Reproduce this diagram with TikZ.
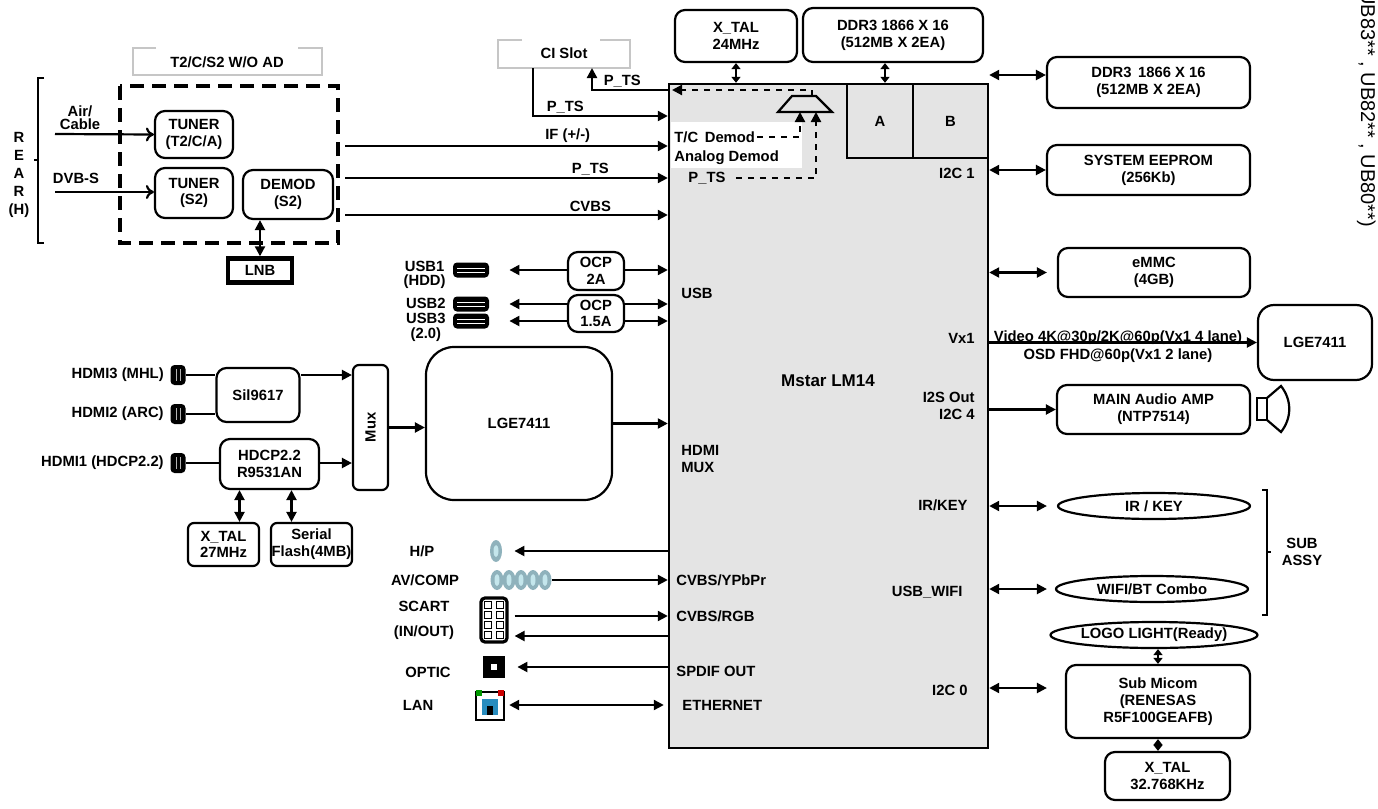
\documentclass[tikz,border=0pt]{standalone}
\usepackage{fontspec}
\setmainfont{Liberation Sans}
\usetikzlibrary{positioning,shapes.geometric,arrows.meta}

\definecolor{chipgray}{RGB}{228,228,228}
\definecolor{jackout}{RGB}{143,178,188}
\definecolor{jackin}{RGB}{196,230,236}
\definecolor{lanblue}{RGB}{40,140,190}

\tikzset{
	blk/.style={draw,rounded corners=5pt,line width=1.1pt,align=center,inner sep=0pt,font=\bfseries\fontsize{7.4}{8.4}\selectfont},
	sz/.style 2 args={minimum width=#1*0.5pt,minimum height=#2*0.5pt},
	lbl/.style={font=\bfseries\fontsize{7.4}{8.4}\selectfont,inner sep=1pt,align=center},
	tip/.tip={Triangle[length=5pt,width=5pt]},
	stip/.tip={Triangle[length=3pt,width=4.5pt]},
	sig/.style={line width=1.1pt,-tip},
	bus/.style={line width=1.1pt,tip-tip},
	sbus/.style={line width=1.1pt,stip-stip},
	oval/.style={draw,ellipse,line width=1.1pt,inner sep=0pt,font=\bfseries\fontsize{7.4}{8.4}\selectfont},
}

\begin{document}
\begin{tikzpicture}[x=0.5pt,y=-0.5pt]
	\useasboundingbox (0,0) rectangle (1378,809);

	% main chip
	\node[draw,line width=1.2pt,fill=chipgray,sz={319}{664}] (chip) at (828.5,416) {};
	\fill[white] (671,122) rectangle (802,168);
	\node[draw,line width=1.2pt,fill=chipgray,sz={66}{74},lbl] (memA) at (880,121) {A};
	\node[draw,line width=1.2pt,fill=chipgray,sz={75}{74},lbl] (memB) at (950.5,121) {B};
	\node[lbl,font=\bfseries\fontsize{8.5}{10}\selectfont] (chipname) at (828,381) {Mstar LM14};

	\node[lbl,anchor=west] (tcdem) at (672,137) {T/C\, Demod};
	\node[lbl,anchor=west] (andem) at (672,158) {Analog Demod};
	\node[lbl,anchor=west] (pts) at (686,178) {P\_TS};
	\node[lbl,anchor=west] (usbin) at (679,293) {USB};
	\node[lbl,anchor=west,align=left] (hdmimux) at (679,459) {HDMI\\MUX};
	\node[lbl,anchor=west] (cvbsy) at (674,580) {CVBS/YPbPr};
	\node[lbl,anchor=west] (cvbsrgb) at (674,616) {CVBS/RGB};
	\node[lbl,anchor=west] (spdif) at (674,671) {SPDIF OUT};
	\node[lbl,anchor=west] (eth) at (680,705) {ETHERNET};
	\node[lbl,anchor=east] (i2cA) at (977,173) {I2C 1};
	\node[lbl,anchor=east] (vxA) at (977,338) {Vx1};
	\node[lbl,anchor=east,align=right] (i2s) at (977,406) {I2S Out\\I2C 4};
	\node[lbl,anchor=east] (irin) at (970,505) {IR/KEY};
	\node[lbl,anchor=east] (wifiin) at (965,592) {USB\_WIFI};
	\node[lbl,anchor=east] (i2cB) at (970,690) {I2C 0};

	% demod selector
	\draw[line width=1.1pt] (792,96) -- (816,96) -- (832,112) -- (778,112) -- cycle;
	\draw[line width=1.1pt,dashed,-tip] (812,96) |- (672,90);
	\draw[line width=1.1pt,dashed,-tip] (tcdem.east) -| (800,112);
	\draw[line width=1.1pt,dashed,-tip] (pts.east) ++(8,0) -| (816,112);

	% top and right parts
	\node[blk,sz={122}{52}] (xtalA) at (736,36) {X\_TAL\\24MHz};
	\node[blk,sz={180}{54}] (ddrA) at (893,35) {DDR3 1866 X 16\\(512MB X 2EA)};
	\draw[sbus] (xtalA.south) -- (xtalA.south |- chip.north);
	\draw[sbus] ([xshift=-4pt]ddrA.south) -- ([xshift=-4pt]ddrA.south |- memA.north);

	\node[blk,sz={203}{51}] (ddrB) at (1148.5,82.5) {DDR3\, 1866 X 16\\(512MB X 2EA)};
	\node[blk,sz={203}{50}] (eeprom) at (1148.5,170) {SYSTEM EEPROM\\(256Kb)};
	\node[blk,sz={192}{49}] (emmc) at (1154,272.5) {eMMC\\(4GB)};
	\node[blk,sz={114}{75},rounded corners=8pt] (lgeB) at (1315,342.5) {LGE7411};
	\node[blk,sz={193}{49}] (amp) at (1153.5,409.5) {MAIN Audio AMP\\(NTP7514)};
	\node[oval,sz={192}{26}] (irkey) at (1154,506) {IR / KEY};
	\node[oval,sz={192}{26}] (wifi) at (1152,589) {WIFI/BT Combo};
	\node[oval,sz={192}{26}] (logo) at (1154,635) {LOGO LIGHT(Ready)};
	\node[blk,sz={184}{73}] (micom) at (1158,701.5) {Sub Micom\\(RENESAS\\R5F100GEAFB)};
	\node[blk,sz={125}{48}] (xtalC) at (1167.5,776) {X\_TAL\\32.768KHz};

	\draw[bus] (chip.east |- 0,75) -- (ddrB.west |- 0,75);
	\draw[bus] (chip.east |- eeprom) -- (eeprom.west);
	\draw[bus] (chip.east |- emmc) -- ([xshift=-5pt]emmc.west);
	\draw[sig] (chip.east |- lgeB) -- (lgeB.west);
	\node[lbl] (vxtxt) at (1118,338) {Video 4K@30p/2K@60p(Vx1 4 lane)};
	\node[lbl] (osdtxt) at (1118,356) {OSD FHD@60p(Vx1 2 lane)};
	\draw[sig] (chip.east |- amp) -- (amp.west);
	\draw[line width=1.1pt] (1257,398) rectangle (1267,420);
	\draw[line width=1.1pt] (1267,398) -- (1281,386) .. controls (1292,400) and (1292,418) .. (1281,432) -- (1267,420);
	\draw[bus,shorten >=5pt] (chip.east |- irkey) -- (irkey.west);
	\draw[bus,shorten >=4pt] (chip.east |- wifi) -- (wifi.west);
	\draw[bus,shorten >=9pt] (chip.east |- 0,688) -- (micom.west |- 0,688);
	\draw[sbus] (logo.south -| micom) -- (micom.north);
	\draw[sbus] (micom.south) -- (micom.south |- xtalC.north);

	\draw[line width=0.9pt] (1262,490) -- (1267,490) -- (1267,615) -- (1262,615);
	\draw[line width=0.9pt] (1267,552) -- (1271,552);
	\node[lbl] (subassy) at (1302,552) {SUB\\ASSY};

	\node[rotate=-90,anchor=north west,inner sep=0pt,font=\fontsize{10}{12}\selectfont] (model) at (1376,-10) {UB83** , UB82** , UB80**)};

	% tuner / demod part
	\draw[gray!45,line width=1.2pt] (156,48) -- (133,48) -- (133,75) -- (322,75) -- (322,48) -- (298,48);
	\node[lbl] (tuntitle) at (227,62) {T2/C/S2 W/O AD};
	\draw[gray!45,line width=1.2pt] (522,40) -- (498,40) -- (498,68) -- (630,68) -- (630,40) -- (600,40);
	\node[lbl] (cislot) at (564,53) {CI Slot};
	\draw[line width=2.2pt,dash pattern=on 7pt off 4pt] (120,86) rectangle (338,243);

	\draw[line width=0.9pt] (44,78) -- (38,78) -- (38,243) -- (44,243);
	\draw[line width=0.9pt] (38,160) -- (34,160);
	\node[lbl,font=\bfseries\fontsize{7.4}{9}\selectfont] (rear) at (19,175) {R\\E\\A\\R\\(H)};

	\node[blk,sz={78}{47}] (tunA) at (194,134.5) {TUNER\\(T2/C/A)};
	\node[blk,sz={78}{50}] (tunS) at (194,193) {TUNER\\(S2)};
	\node[blk,sz={90}{49}] (demod) at (288,194.5) {DEMOD\\(S2)};
	\node[draw,line width=2.2pt,sz={64}{24},lbl] (lnb) at (260,270.5) {LNB};

	\coordinate (airin) at (55,134);
	\coordinate (dvbin) at (55,192);
	\draw[line width=1.1pt,-{To[length=4pt,width=7pt]}] (airin) -- (tunA.west);
	\draw[line width=1.1pt,-{To[length=4pt,width=7pt]}] (dvbin) -- (dvbin -| tunS.west);
	\node[lbl,font=\bfseries\fontsize{7.4}{6.5}\selectfont] (airtxt) at (80,118) {Air/\\Cable};
	\node[lbl] (dvbtxt) at (76,178) {DVB-S};
	\draw[bus] (lnb.north) -- (lnb.north |- demod.south);

	\coordinate (ifout) at (345,146);
	\coordinate (tsout) at (345,178);
	\coordinate (cvout) at (345,215);
	\draw[sig] (ifout) -- (ifout -| chip.west) node[lbl,pos=0.69,above] {IF (+/-)};
	\draw[sig] (tsout) -- (tsout -| chip.west) node[lbl,pos=0.76,above] {P\_TS};
	\draw[sig] (cvout) -- (cvout -| chip.west) node[lbl,pos=0.76,above] {CVBS};

	\coordinate (cidn) at (533,68);
	\coordinate (ciup) at (592,68);
	\draw[sig] (cidn) |- (chip.west |- 0,116) node[lbl,pos=0.62,above] {P\_TS};
	\draw[sig] (chip.west |- 0,90) -| (ciup) node[lbl,pos=0.3,above] {P\_TS};

	% usb part
	\node[blk,sz={56}{38}] (ocpA) at (596,271) {OCP\\2A};
	\node[blk,sz={56}{37}] (ocpB) at (596,313.5) {OCP\\1.5A};
	\foreach \n/\y in {usbA/270,usbB/304,usbC/321}{
		\node[fill=black,rounded corners=2pt,sz={36}{15}] (\n) at (471,\y) {};
		\draw[white,line width=0.5pt] (457,\y-2) -- (485,\y-2) (457,\y+2) -- (485,\y+2);
	}
	\node[lbl,anchor=east,font=\bfseries\fontsize{7.4}{7}\selectfont] (usbAt) at (448,275) {USB1\\(HDD)};
	\node[lbl,anchor=east,font=\bfseries\fontsize{7.4}{7.5}\selectfont] (usbBt) at (448,320) {USB2\\USB3\\(2.0)};
	\draw[sig,shorten >=10pt] (ocpA.west |- usbA) -- (usbA.east);
	\draw[sig] (ocpA.east |- usbA) -- (chip.west |- usbA);
	\draw[sig,shorten >=10pt] (ocpB.west |- usbB) -- (usbB.east);
	\draw[sig,shorten >=10pt] (ocpB.west |- usbC) -- (usbC.east);
	\draw[sig] (ocpB.east |- usbB) -- (chip.west |- usbB);
	\draw[sig] (ocpB.east |- usbC) -- (chip.west |- usbC);

	% hdmi part
	\node[blk,sz={83}{54}] (sil) at (258,395) {Sil9617};
	\node[blk,sz={99}{50}] (hdcp) at (269.5,464) {HDCP2.2\\R9531AN};
	\node[blk,sz={35}{125},rounded corners=3pt] (mux) at (370.5,427.5) {\rotatebox{90}{Mux}};
	\node[blk,sz={186}{153},rounded corners=14pt] (lgeA) at (519,423.5) {LGE7411};
	\node[blk,sz={71}{43},rounded corners=3pt] (xtalB) at (223.5,544.5) {X\_TAL\\27MHz};
	\node[blk,sz={81}{43},rounded corners=3pt] (flash) at (311.5,544.5) {Serial\\Flash(4MB)};
	\foreach \n/\y/\t in {hdmiC/375/HDMI3 (MHL),hdmiB/414/HDMI2 (ARC),hdmiA/463/HDMI1 (HDCP2.2)}{
		\node[fill=black,rounded corners=2pt,sz={15}{20}] (\n) at (178,\y) {};
		\draw[gray!60,line width=0.4pt] (176,\y-6) -- (176,\y+6) (180,\y-6) -- (180,\y+6);
		\node[lbl,left=2pt of \n] {\t};
	}
	\draw[line width=1.1pt] (hdmiC.east) -- (hdmiC -| sil.west);
	\draw[line width=1.1pt] (hdmiB.east) -- (hdmiB -| sil.west);
	\draw[line width=1.1pt] (hdmiA.east) -- (hdmiA -| hdcp.west);
	\draw[sig] (sil.east |- hdmiC) -- (mux.west |- hdmiC);
	\draw[sig] (hdcp.east |- hdmiA) -- (mux.west |- hdmiA);
	\draw[sig] (mux.east) -- (mux.east -| lgeA.west);
	\draw[sig] (lgeA.east) -- (lgeA.east -| chip.west);
	\draw[bus] ([xshift=8pt]xtalB.north) -- ([xshift=8pt]xtalB.north |- hdcp.south);
	\draw[bus] ([xshift=-10pt]flash.north) -- ([xshift=-10pt]flash.north |- hdcp.south);

	% rear jacks
	\node[ellipse,fill=jackout,sz={12}{22},inner sep=0pt] (hp) at (496,551) {};
	\fill[jackin] (hp) ellipse (2.5 and 6);
	\foreach \i in {0,...,4}{
		\node[ellipse,fill=jackout,sz={13}{20},inner sep=0pt] (av\i) at (497+\i*12,580) {};
		\fill[jackin] (av\i) ellipse (2.5 and 6);
	}
	\node[draw,line width=1.6pt,rounded corners=2pt,sz={26}{44}] (scart) at (494,620) {};
	\foreach \c in {488,500}
		\foreach \r in {605,615,625,635}
			\draw[line width=0.8pt] (\c-3.5,\r-3.5) rectangle (\c+3.5,\r+3.5);
	\node[fill=black,sz={22}{22}] (optic) at (494,667) {};
	\fill[white] (491,664) rectangle (497,670);
	\node[draw,line width=1.2pt,sz={28}{28}] (lan) at (490,706) {};
	\fill[lanblue] (482,699) rectangle (498,715);
	\fill[black] (487,706) rectangle (493,715);
	\fill[green!60!black] (476,690) rectangle (482,696);
	\fill[red!80!black] (498,690) rectangle (504,696);

	\node[lbl] (hptxt) at (422,551) {H/P};
	\node[lbl] (avtxt) at (425,580) {AV/COMP};
	\node[lbl,font=\bfseries\fontsize{7.4}{12.5}\selectfont] (scarttxt) at (424,620) {SCART\\(IN/OUT)};
	\node[lbl] (optictxt) at (428,672) {OPTIC};
	\node[lbl] (lantxt) at (418,705) {LAN};

	\draw[sig,shorten >=6pt] (chip.west |- hp) -- (hp.east);
	\draw[sig] (av4.east) -- (chip.west |- av4);
	\draw[sig,shorten <=3pt] (scart.east |- cvbsrgb) -- (chip.west |- cvbsrgb);
	\draw[sig,shorten >=3pt] (chip.west |- 0,636) -- (scart.east |- 0,636);
	\draw[sig,shorten >=6pt] (chip.west |- optic) -- (optic.east);
	\draw[bus,shorten <=2pt,shorten >=2pt] (lan.east |- eth) -- (chip.west |- eth);
\end{tikzpicture}
\end{document}
